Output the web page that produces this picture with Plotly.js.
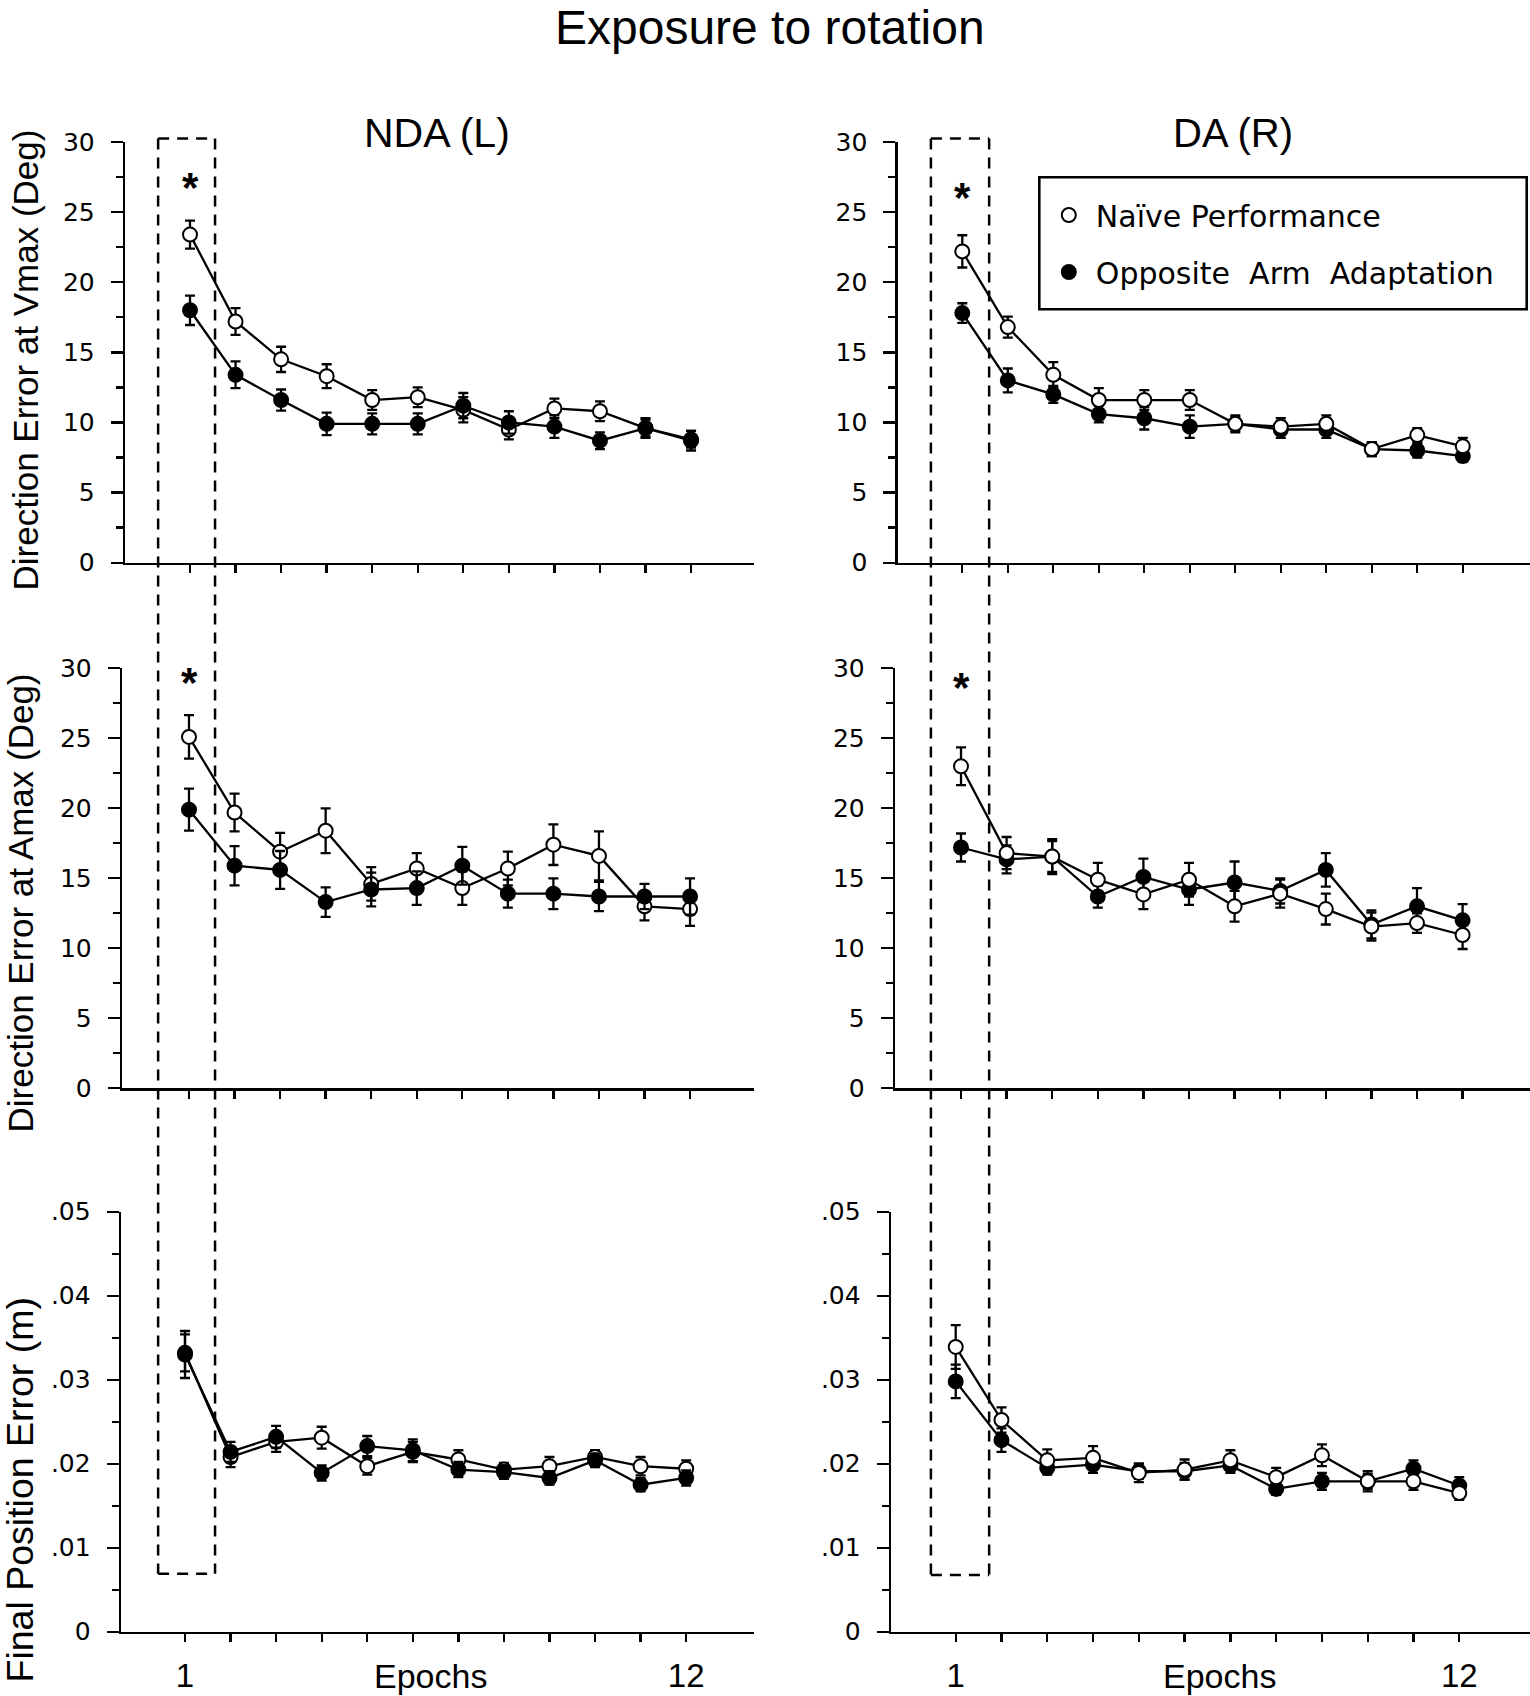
<!DOCTYPE html>
<html>
<head>
<meta charset="utf-8">
<script src="https://cdn.plot.ly/plotly-3.0.1.min.js"></script>
<style>html,body{margin:0;padding:0;background:#fff;}</style>
</head>
<body>
<div id="chart" style="width:1530px;height:1696px;"></div>
<script>
// ---------- DATA ----------
const epochs = [1,2,3,4,5,6,7,8,9,10,11,12];
const epochTickText = ['1','','','','','','','','','','','12'];
const degTicks = [0,5,10,15,20,25,30];
const degTickText = ['0','5','10','15','20','25','30'];
const degMinor = [2.5,7.5,12.5,17.5,22.5,27.5];
const posTicks = [0,0.01,0.02,0.03,0.04,0.05];
const posTickText = ['0','.01','.02','.03','.04','.05'];
const posMinor = [0.005,0.015,0.025,0.035,0.045];

const figureTitle = 'Exposure to rotation';
const seriesNames = ['Naïve Performance', 'Opposite\u00a0 Arm\u00a0 Adaptation'];
const panelTitles = ['NDA (L)', 'DA (R)'];
const rowTitles = ['Direction Error at Vmax (Deg)', 'Direction Error at Amax (Deg)', 'Final Position Error (m)'];

// Direction error at Vmax
const naiveVmaxL    = [23.4, 17.2, 14.5, 13.3, 11.6, 11.8, 10.9, 9.5, 11.0, 10.8, 9.6, 8.8];
const naiveVmaxLErr = [1.0, 0.95, 0.9, 0.85, 0.7, 0.7, 0.9, 0.7, 0.7, 0.7, 0.6, 0.6];
const oppVmaxL      = [18.0, 13.4, 11.6, 9.9, 9.9, 9.9, 11.2, 10.0, 9.7, 8.7, 9.6, 8.7];
const oppVmaxLErr   = [1.05, 0.95, 0.75, 0.8, 0.75, 0.75, 0.9, 0.8, 0.8, 0.6, 0.7, 0.7];
const naiveVmaxR    = [22.2, 16.8, 13.4, 11.6, 11.6, 11.6, 9.9, 9.7, 9.9, 8.1, 9.1, 8.3];
const naiveVmaxRErr = [1.15, 0.75, 0.9, 0.85, 0.7, 0.7, 0.6, 0.6, 0.6, 0.5, 0.5, 0.6];
const oppVmaxR      = [17.8, 13.0, 12.0, 10.6, 10.3, 9.7, 9.9, 9.5, 9.5, 8.1, 8.0, 7.6];
const oppVmaxRErr   = [0.7, 0.85, 0.6, 0.6, 0.8, 0.8, 0.5, 0.6, 0.6, 0.5, 0.5, 0.4];

// Direction error at Amax
const naiveAmaxL    = [25.1, 19.7, 16.9, 18.4, 14.6, 15.7, 14.3, 15.7, 17.4, 16.6, 13.0, 12.8];
const naiveAmaxLErr = [1.55, 1.35, 1.35, 1.6, 1.2, 1.1, 1.2, 1.2, 1.45, 1.75, 1.0, 1.2];
const oppAmaxL      = [19.9, 15.9, 15.6, 13.3, 14.2, 14.3, 15.9, 13.9, 13.9, 13.7, 13.7, 13.7];
const oppAmaxLErr   = [1.5, 1.4, 1.35, 1.05, 1.2, 1.2, 1.35, 1.0, 1.1, 1.05, 0.9, 1.3];
const naiveAmaxR    = [23.0, 16.8, 16.55, 14.9, 13.85, 14.9, 13.0, 13.9, 12.8, 11.55, 11.8, 10.95];
const naiveAmaxRErr = [1.35, 1.15, 1.25, 1.2, 1.05, 1.2, 1.1, 1.0, 1.1, 1.0, 0.7, 1.0];
const oppAmaxR      = [17.2, 16.35, 16.55, 13.7, 15.1, 14.2, 14.7, 14.1, 15.6, 11.7, 13.0, 12.0];
const oppAmaxRErr   = [1.0, 1.0, 1.1, 0.8, 1.3, 1.1, 1.5, 0.9, 1.2, 1.0, 1.3, 1.15];

// Final position error
const naiveFpeL    = [0.0332, 0.0208, 0.0226, 0.0231, 0.0197, 0.0214, 0.0205, 0.0193, 0.0197, 0.0208, 0.0197, 0.0194];
const naiveFpeLErr = [0.0022, 0.0012, 0.0012, 0.0013, 0.0010, 0.0012, 0.0011, 0.0008, 0.0011, 0.0008, 0.0011, 0.0010];
const oppFpeL      = [0.0330, 0.0214, 0.0232, 0.0189, 0.0221, 0.0216, 0.0193, 0.0190, 0.0183, 0.0204, 0.0175, 0.0183];
const oppFpeLErr   = [0.0028, 0.0012, 0.0013, 0.0009, 0.0012, 0.0013, 0.0009, 0.0008, 0.0008, 0.0008, 0.0008, 0.0009];
const naiveFpeR    = [0.0339, 0.0252, 0.0204, 0.0207, 0.0189, 0.0193, 0.0204, 0.0184, 0.0210, 0.0179, 0.0179, 0.0165];
const naiveFpeRErr = [0.0026, 0.0015, 0.0013, 0.0014, 0.0011, 0.0012, 0.0012, 0.0011, 0.0013, 0.0012, 0.0010, 0.0008];
const oppFpeR      = [0.0298, 0.0228, 0.0195, 0.0199, 0.0191, 0.0191, 0.0198, 0.0170, 0.0179, 0.0179, 0.0194, 0.0174];
const oppFpeRErr   = [0.0020, 0.0014, 0.0008, 0.0010, 0.0009, 0.0010, 0.0009, 0.0007, 0.0010, 0.0009, 0.0010, 0.0010];

// significance markers (epoch, value) per panel
const starTL = [1, 26.9], starTR = [1, 26.2], starML = [1, 29.1], starMR = [1, 28.8];

// ---------- BUILD ----------
const BLACK = '#000';
const traces = [];
function panel(n, naive, naiveErr, opp, oppErr, openOnTop, legend) {
  const xa = n === 1 ? 'x' : 'x' + n, ya = n === 1 ? 'y' : 'y' + n;
  const lineSty = {color: BLACK, width: 2.3};
  traces.push({x: epochs, y: naive, xaxis: xa, yaxis: ya, mode: 'lines', line: lineSty, showlegend: false, hoverinfo: 'skip'});
  traces.push({x: epochs, y: opp, xaxis: xa, yaxis: ya, mode: 'lines', line: lineSty, showlegend: false, hoverinfo: 'skip'});
  const eb = (arr) => ({type: 'data', array: arr, visible: true, color: BLACK, thickness: 2.3, width: 5});
  const tOpen = {x: epochs, y: naive, xaxis: xa, yaxis: ya, mode: 'markers', name: seriesNames[0],
    legendgroup: 'a', showlegend: legend, error_y: eb(naiveErr),
    marker: {symbol: 'circle', size: 14, color: '#fff', line: {color: BLACK, width: 2}}};
  const tFill = {x: epochs, y: opp, xaxis: xa, yaxis: ya, mode: 'markers', name: seriesNames[1],
    legendgroup: 'b', showlegend: legend, error_y: eb(oppErr),
    marker: {symbol: 'circle', size: 14, color: BLACK, line: {color: BLACK, width: 2}}};
  if (openOnTop) { traces.push(tFill, tOpen); } else { traces.push(tOpen, tFill); }
}
panel(1, naiveVmaxL, naiveVmaxLErr, oppVmaxL, oppVmaxLErr, false, true);
panel(2, naiveVmaxR, naiveVmaxRErr, oppVmaxR, oppVmaxRErr, true, false);
panel(3, naiveAmaxL, naiveAmaxLErr, oppAmaxL, oppAmaxLErr, false, false);
panel(4, naiveAmaxR, naiveAmaxRErr, oppAmaxR, oppAmaxRErr, true, false);
panel(5, naiveFpeL, naiveFpeLErr, oppFpeL, oppFpeLErr, false, false);
panel(6, naiveFpeR, naiveFpeRErr, oppFpeR, oppFpeRErr, true, false);

const W = 1530, H = 1696;
function xax(d0, d1, r0, r1, labels, anchor) {
  return {domain: [d0 / W, d1 / W], range: [r0, r1], anchor: anchor,
    showline: true, linecolor: BLACK, linewidth: 2.3, mirror: false,
    ticks: 'outside', ticklen: 8, tickwidth: 2.3, tickcolor: BLACK,
    tickmode: 'array', tickvals: epochs, ticktext: epochTickText, showticklabels: labels,
    ticklabelstandoff: 5,
    tickfont: {family: 'Liberation Sans, Arial, sans-serif', size: 33, color: BLACK},
    showgrid: false, zeroline: false, fixedrange: true};
}
function yax(dom, isPos, anchor) {
  return {domain: dom, range: isPos ? [0, 0.05] : [0, 30], anchor: anchor,
    showline: true, linecolor: BLACK, linewidth: 2.3,
    ticks: 'outside', ticklen: 12, tickwidth: 2.3, tickcolor: BLACK,
    tickmode: 'array', tickvals: isPos ? posTicks : degTicks, ticktext: isPos ? posTickText : degTickText,
    minor: {tickmode: 'array', tickvals: isPos ? posMinor : degMinor, ticks: 'outside', ticklen: 7, tickwidth: 2.3, tickcolor: BLACK, showgrid: false},
    ticklabelstandoff: 11,
    tickfont: {family: 'DejaVu Sans, Verdana, sans-serif', size: 25, color: BLACK},
    showgrid: false, zeroline: false, fixedrange: true};
}
const domTop = [1 - 562.7 / H, 1 - 142 / H];
const domMid = [1 - 1088.3 / H, 1 - 668.3 / H];
const domBot = [1 - 1631.7 / H, 1 - 1211.7 / H];

const layout = {
  width: W, height: H, margin: {l: 0, r: 0, t: 0, b: 0, pad: 0},
  paper_bgcolor: '#fff', plot_bgcolor: 'rgba(0,0,0,0)',
  font: {family: 'Liberation Sans, Arial, sans-serif', color: BLACK},
  xaxis:  xax(125, 754, 1 - 65 / 45.55, 1 + 564 / 45.55, false, 'y'),
  xaxis2: xax(897.7, 1530, 1 - 64.6 / 45.5, 1 + 567.7 / 45.5, false, 'y2'),
  xaxis3: xax(122, 754, 1 - 67 / 45.55, 1 + 565 / 45.55, false, 'y3'),
  xaxis4: xax(895, 1530, 1 - 66 / 45.6, 1 + 569 / 45.6, false, 'y4'),
  xaxis5: xax(121, 754, 1 - 64 / 45.56, 1 + 569 / 45.56, true, 'y5'),
  xaxis6: xax(891, 1530, 1 - 64.7 / 45.78, 1 + 574.3 / 45.78, true, 'y6'),
  yaxis:  yax(domTop, false, 'x'),
  yaxis2: yax(domTop, false, 'x2'),
  yaxis3: yax(domMid, false, 'x3'),
  yaxis4: yax(domMid, false, 'x4'),
  yaxis5: yax(domBot, true, 'x5'),
  yaxis6: yax(domBot, true, 'x6'),
  showlegend: true,
  legend: {x: 1041.8 / W, y: 1 - 189 / H, xanchor: 'left', yanchor: 'top',
    bgcolor: 'rgba(0,0,0,0)', borderwidth: 0,
    font: {family: 'DejaVu Sans, Verdana, sans-serif', size: 30, color: BLACK},
    itemwidth: 44, traceorder: 'grouped', tracegroupgap: 15},
  annotations: [],
  shapes: []
};

// figure title (kept fully inside the page)
layout.annotations.push({text: figureTitle, xref: 'paper', yref: 'paper', x: 770 / W, y: 1,
  xanchor: 'center', yanchor: 'top', showarrow: false, borderpad: 0,
  font: {size: 48, color: BLACK, family: 'Liberation Sans, Arial, sans-serif'}});

// legend frame
layout.shapes.push({type: 'rect', xref: 'paper', yref: 'paper', x0: 1039.3 / W, x1: 1526.7 / W,
  y0: 1 - 309.3 / H, y1: 1 - 177.3 / H, line: {color: BLACK, width: 2.6}, fillcolor: 'rgba(0,0,0,0)', layer: 'above'});

// panel titles
layout.annotations.push({text: panelTitles[0], xref: 'paper', yref: 'paper', x: 436.5 / W, y: 1 - 133 / H,
  xanchor: 'center', yanchor: 'middle', showarrow: false, font: {size: 41, color: BLACK, family: 'Liberation Sans, Arial, sans-serif'}});
layout.annotations.push({text: panelTitles[1], xref: 'paper', yref: 'paper', x: 1232.5 / W, y: 1 - 133 / H,
  xanchor: 'center', yanchor: 'middle', showarrow: false, font: {size: 40, color: BLACK, family: 'Liberation Sans, Arial, sans-serif'}});
// row titles
[[rowTitles[0], 24.5, 360, 35], [rowTitles[1], 20.5, 903, 35], [rowTitles[2], 19.5, 1490, 37.5]].forEach(function (r) {
  layout.annotations.push({text: r[0], textangle: -90, xref: 'paper', yref: 'paper', x: r[1] / W, y: 1 - r[2] / H,
    xanchor: 'center', yanchor: 'middle', showarrow: false, font: {size: r[3], color: BLACK, family: 'Liberation Sans, Arial, sans-serif'}});
});
// Epochs labels
[[430, 'Epochs'], [1219, 'Epochs']].forEach(function (e) {
  layout.annotations.push({text: e[1], xref: 'paper', yref: 'paper', x: e[0] / W, y: 1 - 1676 / H,
    xanchor: 'center', yanchor: 'middle', showarrow: false, font: {size: 34, color: BLACK, family: 'Liberation Sans, Arial, sans-serif'}});
});
// asterisks
[[starTL, 'x', 'y'], [starTR, 'x2', 'y2'], [starML, 'x3', 'y3'], [starMR, 'x4', 'y4']].forEach(function (s) {
  layout.annotations.push({text: '<b>*</b>', xref: s[1], yref: s[2], x: s[0][0], y: s[0][1], yshift: -2,
    xanchor: 'center', yanchor: 'middle', showarrow: false, font: {size: 42, color: BLACK, family: 'Liberation Sans, Arial, sans-serif'}});
});

// dashed boxes around epoch 1 spanning the three rows
function toPaper(v, dom, rng) { return dom[0] + (v - rng[0]) / (rng[1] - rng[0]) * (dom[1] - dom[0]); }
function dashedBox(xref, xl, xr, topVal, botVal) {
  const yt = toPaper(topVal, domTop, [0, 30]);
  const yb = toPaper(botVal, domBot, [0, 0.05]);
  const ln = {color: BLACK, width: 2.5, dash: '11px,8px'};
  layout.shapes.push({type: 'line', xref: xref, yref: 'paper', x0: xl, x1: xl, y0: yt, y1: yb, line: ln});
  layout.shapes.push({type: 'line', xref: xref, yref: 'paper', x0: xr, x1: xr, y0: yt, y1: yb, line: ln});
  layout.shapes.push({type: 'line', xref: xref, yref: 'paper', x0: xl, x1: xr, y0: yt, y1: yt, line: ln});
  layout.shapes.push({type: 'line', xref: xref, yref: 'paper', x0: xl, x1: xr, y0: yb, y1: yb, line: ln});
}
dashedBox('x', 0.30, 1.55, 30.25, 0.0069);
dashedBox('x2', 0.31, 1.59, 30.25, 0.00675);

Plotly.newPlot('chart', traces, layout, {staticPlot: true, displayModeBar: false});
</script>
</body>
</html>
